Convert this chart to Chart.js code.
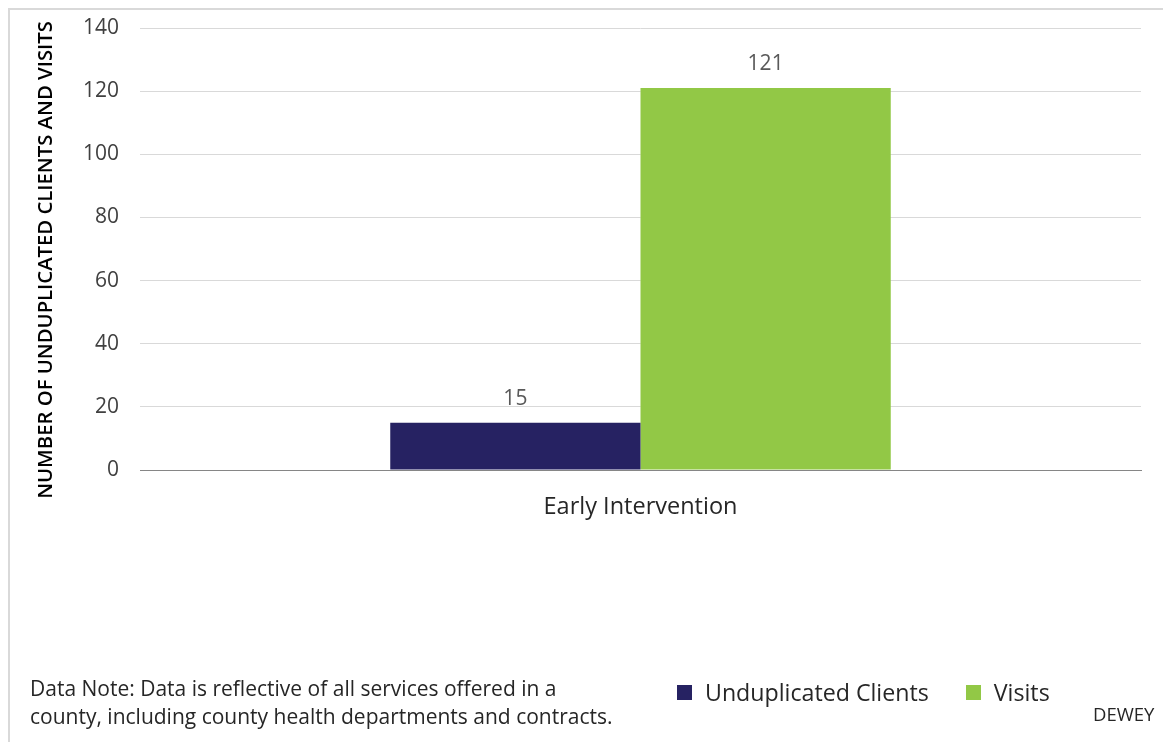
<!DOCTYPE html>
<html>
<head>
<meta charset="utf-8">
<script src="https://cdn.jsdelivr.net/npm/chart.js@4.4.1/dist/chart.umd.min.js"></script>
<style>
  html, body { margin: 0; padding: 0; background: #fff; }
  body { width: 1163px; height: 742px; position: relative; overflow: hidden; font-family: "Open Sans", sans-serif; }
  #frame { position: absolute; left: 8px; top: 8px; width: 1200px; height: 800px; border-left: 2px solid #d9d9d9; border-top: 2px solid #d9d9d9; }
  #wrap { position: absolute; left: 0; top: 0; width: 1163px; height: 742px; }
  #note { position: absolute; left: 30px; top: 674px; font-size: 21px; line-height: 28px; color: #262626; white-space: nowrap; }
  #legend { position: absolute; left: 677px; top: 677px; height: 30px; font-size: 23.2px; line-height: 30px; color: #262626; display: flex; align-items: center; white-space: nowrap; }
  #legend .item { display: flex; align-items: center; margin-right: 37px; }
  #legend .sw { width: 15px; height: 15px; margin-right: 13px; }
  #src { position: absolute; left: 1093px; top: 703px; font-size: 18.5px; line-height: 22px; color: #262626; }
</style>
</head>
<body>
<div id="frame"></div>
<div id="wrap"><canvas id="c" width="1163" height="742"></canvas></div>
<div id="note">Data Note: Data is reflective of all services offered in a<br>county, including county health departments and contracts.</div>
<div id="legend"></div>
<div id="src">DEWEY</div>
<script>
const categories = ["Early Intervention"];
const seriesNames = ["Unduplicated Clients", "Visits"];
const clients = [15];
const visits = [121];
const yTicks = [0, 20, 40, 60, 80, 100, 120, 140];
const colors = ["#262262", "#92C846"];
const yTitle = "NUMBER OF UNDUPLICATED CLIENTS AND VISITS";

const legendEl = document.getElementById('legend');
seriesNames.forEach((n, i) => {
  const it = document.createElement('div');
  it.className = 'item';
  const sw = document.createElement('div');
  sw.className = 'sw';
  sw.style.background = colors[i];
  const t = document.createElement('span');
  t.textContent = n;
  it.appendChild(sw); it.appendChild(t);
  legendEl.appendChild(it);
});

const valueLabels = {
  id: 'valueLabels',
  afterDatasetsDraw(chart) {
    const ctx = chart.ctx;
    ctx.save();
    ctx.font = '21px "Open Sans", sans-serif';
    ctx.fillStyle = '#595959';
    ctx.textAlign = 'center';
    ctx.textBaseline = 'middle';
    chart.data.datasets.forEach((ds, di) => {
      chart.getDatasetMeta(di).data.forEach((bar, i) => {
        ctx.fillText(String(ds.data[i]), bar.x, bar.y - 24);
      });
    });
    ctx.restore();
  }
};

const axisTitle = {
  id: 'axisTitle',
  afterDraw(chart) {
    const ctx = chart.ctx;
    ctx.save();
    ctx.translate(46, 260);
    ctx.rotate(-Math.PI / 2);
    ctx.font = '600 20.3px "Open Sans", sans-serif';
    ctx.fillStyle = '#000';
    ctx.textAlign = 'center';
    ctx.textBaseline = 'middle';
    ctx.fillText(yTitle, 0, 0);
    ctx.restore();
  }
};

new Chart(document.getElementById('c'), {
  type: 'bar',
  data: {
    labels: categories,
    datasets: [
      { label: seriesNames[0], data: clients, backgroundColor: colors[0], categoryPercentage: 0.5, barPercentage: 1.0 },
      { label: seriesNames[1], data: visits, backgroundColor: colors[1], categoryPercentage: 0.5, barPercentage: 1.0 }
    ]
  },
  options: {
    responsive: false,
    animation: false,
    devicePixelRatio: 1,
    layout: { padding: { top: 28, right: 22, left: 0, bottom: 0 } },
    plugins: { legend: { display: false }, tooltip: { enabled: false } },
    scales: {
      x: {
        grid: { display: false, drawTicks: false },
        border: { display: true, color: '#868686', width: 1 },
        ticks: { color: '#262626', font: { family: 'Open Sans', size: 23.5 }, padding: 23 },
        afterFit(scale) { scale.height = 272; scale.paddingLeft = 0; scale.paddingRight = 0; }
      },
      y: {
        min: 0, max: 140,
        afterBuildTicks(scale) { scale.ticks = yTicks.map(v => ({ value: v })); },
        grid: { color: ctx => ctx.tick && ctx.tick.value === 0 ? '#868686' : '#d9d9d9', drawTicks: false, lineWidth: 1 },
        border: { display: false },
        ticks: { color: '#404040', font: { family: 'Open Sans', size: 21 }, padding: 21 },
        afterFit(scale) { scale.width = 140; scale.paddingTop = 0; scale.paddingBottom = 0; }
      }
    }
  },
  plugins: [valueLabels, axisTitle]
});
</script>
</body>
</html>
